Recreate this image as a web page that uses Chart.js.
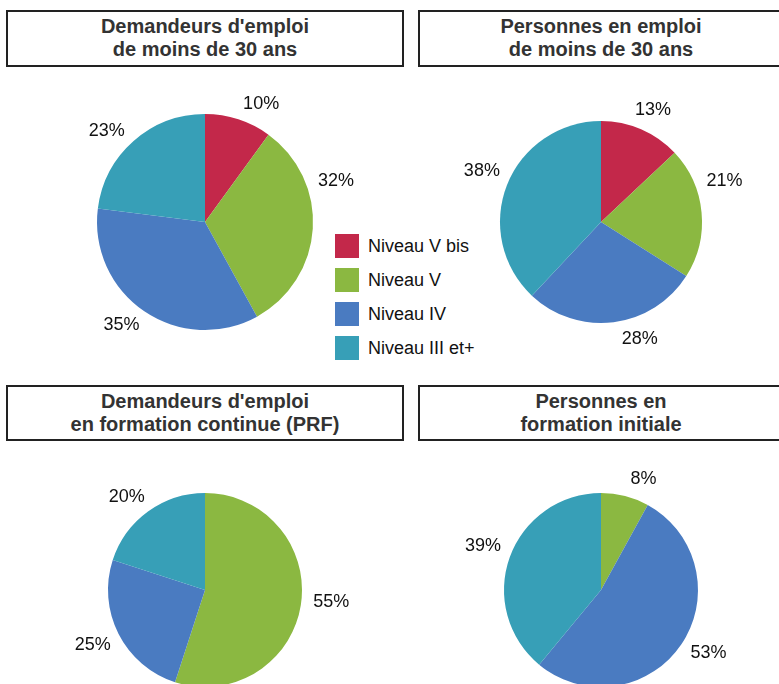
<!DOCTYPE html>
<html lang="fr">
<head>
    <meta charset="UTF-8">
    <title>Niveaux de formation des moins de 30 ans</title>
    <script src="https://cdn.jsdelivr.net/npm/chart.js"></script>
    <style>
        html, body {
            margin: 0;
            padding: 0;
            width: 779px;
            height: 684px;
            overflow: hidden;
            background: #fff;
            font-family: 'Liberation Sans', Arial, sans-serif;
        }
        .title-box {
            position: absolute;
            box-sizing: border-box;
            border: 2px solid #222;
            color: #333;
            font-weight: bold;
            font-size: 20px;
            line-height: 23px;
            text-align: center;
            padding-top: 3px;
        }
        .pie {
            position: absolute;
        }
        #legend {
            position: absolute;
            left: 335px;
            top: 234px;
            font-size: 18px;
            color: #111;
        }
        #legend div {
            height: 34px;
            display: flex;
            align-items: flex-start;
        }
        #legend span.sw {
            display: inline-block;
            width: 24px;
            height: 24px;
            margin-right: 9px;
        }
        #legend span.tx {
            line-height: 25px;
        }
    </style>
</head>
<body>

    <div class="title-box" style="left:6px; top:10px; width:398px; height:57px;">Demandeurs d'emploi<br>de moins de 30 ans</div>
    <div class="title-box" style="left:418px; top:10px; width:400px; height:57px;"><div style="width:362px">Personnes en emploi<br>de moins de 30 ans</div></div>
    <div class="title-box" style="left:6px; top:385px; width:398px; height:56px;">Demandeurs d'emploi<br>en formation continue (PRF)</div>
    <div class="title-box" style="left:418px; top:385px; width:400px; height:56px;"><div style="width:362px">Personnes en<br>formation initiale</div></div>

    <div id="legend"></div>

    <canvas id="pieTL" class="pie"></canvas>
    <canvas id="pieTR" class="pie"></canvas>
    <canvas id="pieBL" class="pie"></canvas>
    <canvas id="pieBR" class="pie"></canvas>

    <script>
        const niveaux = ['Niveau V bis', 'Niveau V', 'Niveau IV', 'Niveau III et+'];
        const couleurs = ['#C3284A', '#8BB841', '#4A7BC1', '#379FB7'];

        // parts en %, dans l'ordre des niveaux
        const demandeurs30 = [10, 32, 35, 23];
        const emploi30 = [13, 21, 28, 38];
        const formationContinue = [0, 55, 25, 20];
        const formationInitiale = [0, 8, 53, 39];

        // legende commune
        const legend = document.getElementById('legend');
        niveaux.forEach((n, i) => {
            const row = document.createElement('div');
            row.innerHTML = '<span class="sw" style="background:' + couleurs[i] + '"></span><span class="tx">' + n + '</span>';
            legend.appendChild(row);
        });

        // etiquettes % a l'exterieur des parts (comme Excel : bord du texte contre le cercle)
        const outsideLabels = {
            id: 'outsideLabels',
            afterDatasetsDraw(chart, args, opts) {
                const ctx = chart.ctx;
                const meta = chart.getDatasetMeta(0);
                const data = chart.data.datasets[0].data;
                const nudge = opts.nudge || [];
                ctx.save();
                ctx.font = '18px "Liberation Sans", Arial, sans-serif';
                ctx.fillStyle = '#111';
                ctx.textAlign = 'center';
                ctx.textBaseline = 'middle';
                meta.data.forEach((arc, i) => {
                    if (!data[i]) return;
                    const txt = data[i] + '%';
                    const w = ctx.measureText(txt).width;
                    const h = 18;
                    const mid = (arc.startAngle + arc.endAngle) / 2 + (nudge[i] || 0) * Math.PI / 180;
                    const ux = Math.cos(mid), uy = Math.sin(mid);
                    const d = arc.outerRadius + 12;
                    const x = arc.x + ux * d + ux * w / 2;
                    const y = arc.y + uy * d + uy * h / 2;
                    ctx.fillText(txt, x, y);
                });
                ctx.restore();
            }
        };

        const pad = 55;

        function drawPie(id, values, cx, cy, r, nudge) {
            const canvas = document.getElementById(id);
            const size = 2 * r + 2 * pad;
            canvas.width = size;
            canvas.height = size;
            canvas.style.width = size + 'px';
            canvas.style.height = size + 'px';
            canvas.style.left = (cx - r - pad) + 'px';
            canvas.style.top = (cy - r - pad) + 'px';
            new Chart(canvas, {
                type: 'pie',
                data: {
                    labels: niveaux,
                    datasets: [{
                        data: values,
                        backgroundColor: couleurs,
                        borderWidth: 0
                    }]
                },
                options: {
                    responsive: false,
                    animation: false,
                    layout: { padding: pad },
                    plugins: {
                        legend: { display: false },
                        tooltip: { enabled: false },
                        outsideLabels: { nudge: nudge }
                    }
                },
                plugins: [outsideLabels]
            });
        }

        drawPie('pieTL', demandeurs30, 205, 222, 108, [6, -22, 3, -4]);
        drawPie('pieTR', emploi30, 601, 222, 101, [0, -14, -10, 3]);
        drawPie('pieBL', formationContinue, 205, 590, 97, [0, -3, -1, -2]);
        drawPie('pieBR', formationInitiale, 601, 590, 97, [0, 6, -2, 2]);
    </script>
</body>
</html>
